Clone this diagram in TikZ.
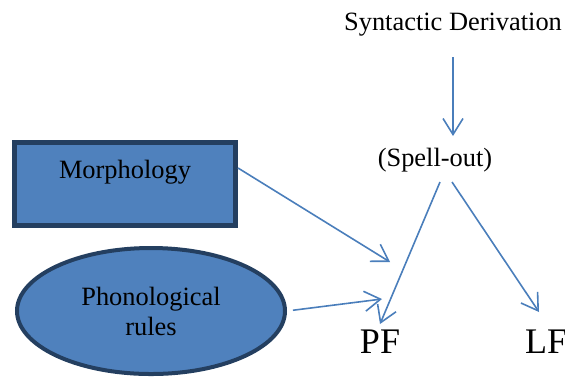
\documentclass[tikz,border=0pt]{standalone}
\usepackage{fontspec}
\setmainfont{Liberation Serif}
\usepackage{xcolor}
\usepackage{tikz}
\usetikzlibrary{positioning,arrows.meta,shapes.geometric,calc}
\definecolor{azul}{HTML}{4F81BD}
\definecolor{marino}{HTML}{243F60}
\definecolor{linea}{HTML}{4A7EBB}

\begin{document}
\begin{tikzpicture}[x=0.5pt, y=-0.5pt, font=\fontsize{13.2}{15}\selectfont,
  caja/.style={draw=marino, line width=2.5pt, fill=azul, inner sep=0pt},
  elipse/.style={ellipse, draw=marino, line width=2pt, fill=azul, inner sep=0pt},
  flecha/.style={-{Straight Barb[length=8pt, width=10pt]}, line width=0.8pt, linea}]
  \useasboundingbox (0,0) rectangle (565,376);
  \node (syn) at (453,25) {Syntactic Derivation};
  \node (spell) at (435,160) {(Spell-out)};
  \node[caja, minimum width=110.5pt, minimum height=41.5pt] (morph) at (125,184) {};
  \node (morphtxt) at (125,172) {Morphology};
  \node[elipse, minimum width=134pt, minimum height=63pt, align=center] (phon) at (151,311)
    {Phonological\\rules};
  \node[font=\fontsize{18}{20}\selectfont] (pf) at (380,342) {PF};
  \node[font=\fontsize{18}{20}\selectfont] (lf) at (546,342) {LF};
  \coordinate (morphin) at (390,262);
  \coordinate (phonin) at (382,299);
  \coordinate (lfin) at (539,312);
  \draw[flecha] ([yshift=-16pt]syn.center) -- ([yshift=12pt]syn.center |- spell.center);
  \draw[flecha] ([yshift=8pt]morph.east) -- (morphin);
  \draw[flecha, shorten <=3pt] (phon.east) -- (phonin);
  \draw[flecha] ([xshift=2.5pt, yshift=-11pt]spell.center) -- ([yshift=9pt]pf.center);
  \draw[flecha] ([xshift=8.5pt, yshift=-11pt]spell.center) -- (lfin);
\end{tikzpicture}
\end{document}
